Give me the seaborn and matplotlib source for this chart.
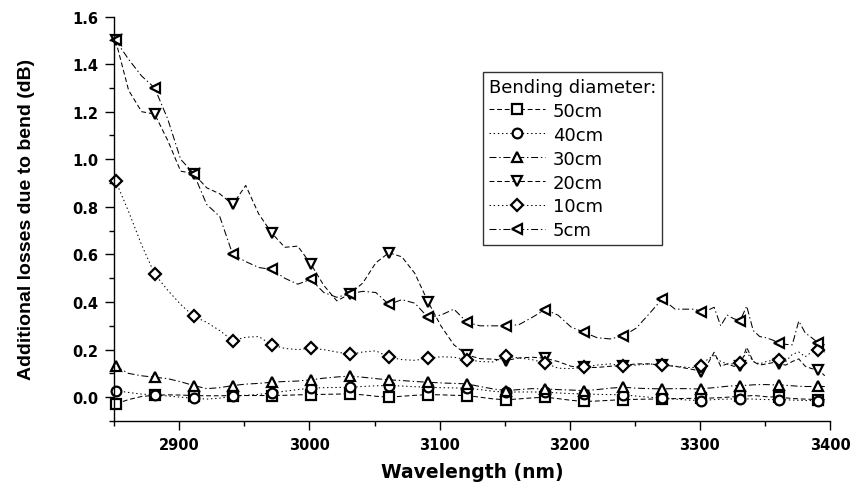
import matplotlib
matplotlib.use("Agg")
import matplotlib.pyplot as plt
from matplotlib.ticker import MultipleLocator
import seaborn as sns
import pandas as pd

wavelength = [2851, 2861, 2871, 2881, 2891, 2901, 2911, 2921, 2931, 2941,
              2951, 2961, 2971, 2981, 2991, 3001, 3011, 3021, 3031, 3041,
              3051, 3061, 3071, 3081, 3091, 3101, 3111, 3121, 3131, 3141,
              3151, 3161, 3171, 3181, 3191, 3201, 3211, 3221, 3231, 3241,
              3251, 3261, 3271, 3281, 3291, 3296, 3301, 3306, 3311, 3316,
              3321, 3326, 3331, 3336, 3341, 3346, 3351, 3356, 3361, 3366,
              3371, 3376, 3381, 3386, 3391, 3396]

loss_50cm = [-0.028, -0.010, 0.003, 0.008, 0.010, 0.009, 0.007, 0.006, 0.006, 0.007,
             0.007, 0.007, 0.007, 0.008, 0.010, 0.011, 0.012, 0.013, 0.014, 0.010,
             0.004, 0.000, 0.004, 0.008, 0.011, 0.010, 0.008, 0.007, 0.000, -0.007,
             -0.011, -0.007, -0.003, 0.000, -0.006, -0.013, -0.018, -0.016, -0.013, -0.010,
             -0.009, -0.008, -0.007, -0.006, -0.005, -0.005, -0.005, -0.004, -0.003, -0.002,
             0.000, 0.002, 0.003, 0.005, 0.007, 0.005, 0.002, 0.001, 0.000, -0.003,
             -0.005, -0.007, -0.008, -0.009, -0.010, -0.010]

loss_40cm = [0.028, 0.020, 0.013, 0.010, 0.005, 0.000, -0.004, -0.008, -0.004, 0.004,
             0.008, 0.012, 0.018, 0.025, 0.032, 0.038, 0.040, 0.041, 0.042, 0.045,
             0.048, 0.049, 0.047, 0.044, 0.042, 0.040, 0.039, 0.038, 0.032, 0.025,
             0.021, 0.022, 0.022, 0.021, 0.018, 0.015, 0.014, 0.012, 0.011, 0.010,
             0.005, 0.000, -0.004, -0.008, -0.012, -0.013, -0.014, -0.012, -0.010, -0.009,
             -0.008, -0.007, -0.007, -0.007, -0.008, -0.009, -0.010, -0.010, -0.010, -0.011,
             -0.012, -0.013, -0.014, -0.014, -0.014, -0.014]

loss_30cm = [0.130, 0.100, 0.090, 0.084, 0.078, 0.065, 0.049, 0.036, 0.040, 0.049,
             0.055, 0.058, 0.063, 0.066, 0.068, 0.073, 0.080, 0.085, 0.089, 0.084,
             0.078, 0.073, 0.070, 0.066, 0.063, 0.060, 0.058, 0.056, 0.045, 0.035,
             0.028, 0.032, 0.036, 0.035, 0.032, 0.030, 0.028, 0.032, 0.038, 0.042,
             0.038, 0.036, 0.035, 0.036, 0.036, 0.035, 0.035, 0.038, 0.040, 0.043,
             0.046, 0.048, 0.049, 0.050, 0.052, 0.053, 0.053, 0.052, 0.052, 0.050,
             0.048, 0.046, 0.045, 0.045, 0.045, 0.045]

loss_20cm = [1.500, 1.290, 1.200, 1.190, 1.080, 0.950, 0.940, 0.880, 0.855, 0.810,
             0.890, 0.770, 0.690, 0.630, 0.635, 0.560, 0.470, 0.405, 0.434, 0.480,
             0.565, 0.607, 0.590, 0.520, 0.402, 0.300, 0.220, 0.178, 0.162, 0.160,
             0.154, 0.165, 0.168, 0.164, 0.150, 0.130, 0.125, 0.125, 0.130, 0.133,
             0.140, 0.140, 0.135, 0.130, 0.120, 0.115, 0.105, 0.140, 0.189, 0.130,
             0.140, 0.130, 0.133, 0.210, 0.150, 0.135, 0.140, 0.145, 0.140, 0.135,
             0.150, 0.161, 0.130, 0.120, 0.116, 0.090]

loss_10cm = [0.910, 0.780, 0.640, 0.518, 0.450, 0.390, 0.340, 0.315, 0.280, 0.238,
             0.252, 0.255, 0.220, 0.205, 0.200, 0.206, 0.200, 0.190, 0.180, 0.190,
             0.195, 0.168, 0.158, 0.155, 0.164, 0.170, 0.168, 0.158, 0.150, 0.148,
             0.172, 0.165, 0.158, 0.144, 0.122, 0.120, 0.126, 0.135, 0.140, 0.130,
             0.135, 0.140, 0.136, 0.130, 0.125, 0.125, 0.130, 0.160, 0.175, 0.150,
             0.140, 0.140, 0.144, 0.190, 0.150, 0.140, 0.150, 0.155, 0.158, 0.150,
             0.180, 0.190, 0.170, 0.190, 0.200, 0.190]

loss_5cm = [1.500, 1.420, 1.350, 1.300, 1.170, 1.000, 0.940, 0.810, 0.760, 0.600,
            0.570, 0.545, 0.537, 0.500, 0.475, 0.495, 0.440, 0.420, 0.435, 0.445,
            0.440, 0.390, 0.410, 0.395, 0.336, 0.345, 0.370, 0.315, 0.300, 0.300,
            0.300, 0.305, 0.335, 0.368, 0.345, 0.295, 0.273, 0.250, 0.245, 0.257,
            0.290, 0.350, 0.413, 0.370, 0.370, 0.370, 0.360, 0.365, 0.378, 0.300,
            0.345, 0.330, 0.322, 0.383, 0.280, 0.255, 0.250, 0.240, 0.228, 0.222,
            0.220, 0.320, 0.270, 0.250, 0.228, 0.220]

series_labels = ["50cm", "40cm", "30cm", "20cm", "10cm", "5cm"]
series_values = [loss_50cm, loss_40cm, loss_30cm, loss_20cm, loss_10cm, loss_5cm]
markers = ["s", "o", "^", "v", "D", "<"]
marker_sizes = [6.5, 7, 7.5, 7.5, 6, 7.5]
dash_styles = [(0, (3.5, 2)), (0, (1, 2)), (0, (5, 2, 1, 2)),
               (0, (3.5, 2)), (0, (1, 2)), (0, (5, 2, 1, 2))]

x_ticks = [2900, 3000, 3100, 3200, 3300, 3400]
y_ticks = [0.0, 0.2, 0.4, 0.6, 0.8, 1.0, 1.2, 1.4, 1.6]

sns.set_style("ticks")
plt.rcParams["font.family"] = ["DejaVu Sans"]
plt.rcParams["lines.scale_dashes"] = False
plt.rcParams["text.color"] = "black"
plt.rcParams["axes.labelcolor"] = "black"
plt.rcParams["xtick.color"] = "black"
plt.rcParams["ytick.color"] = "black"

fig = plt.figure(figsize=(8.51, 4.85), dpi=100)
ax = fig.add_axes([0.1343, 0.1299, 0.8410, 0.8340])

mark_idx = [i for i, w in enumerate(wavelength) if (w - wavelength[0]) % 30 == 0]

for lab, vals, mk, ms, ls in zip(series_labels, series_values, markers,
                                 marker_sizes, dash_styles):
    df = pd.DataFrame({"Wavelength": wavelength, "Loss": vals})
    sns.lineplot(data=df, x="Wavelength", y="Loss", ax=ax, color="black",
                 linewidth=0.75, linestyle=ls, marker=mk, markersize=ms,
                 markerfacecolor="white", markeredgecolor="black",
                 markeredgewidth=1.6, markevery=mark_idx, label=lab,
                 clip_on=False, errorbar=None)

ax.set_xlim(2850, 3400)
ax.set_ylim(-0.1, 1.6)
ax.set_xticks(x_ticks)
ax.set_yticks(y_ticks)
ax.xaxis.set_minor_locator(MultipleLocator(50))
ax.yaxis.set_minor_locator(MultipleLocator(0.1))
ax.set_yticklabels([f"{v:.1f}" for v in y_ticks])
ax.tick_params(axis="both", which="major", direction="out", length=6.5,
               width=1, labelsize=10.5, pad=5, colors="black")
ax.tick_params(axis="both", which="minor", direction="out", length=3.5,
               width=1, colors="black")
for t in ax.get_xticklabels() + ax.get_yticklabels():
    t.set_fontweight("bold")

ax.set_xlabel("Wavelength (nm)", fontsize=13.5, fontweight="bold", labelpad=7,
              color="black")
ax.set_ylabel("Additional losses due to bend (dB)", fontsize=14,
              fontweight="bold", labelpad=27, color="black",
              family=["Liberation Sans", "DejaVu Sans"])

sns.despine(ax=ax)
for s in ["left", "bottom"]:
    ax.spines[s].set_linewidth(1.0)
    ax.spines[s].set_color("black")

leg = ax.legend(title="Bending diameter:", loc="upper left",
                bbox_to_anchor=(0.515, 0.863), borderaxespad=0,
                frameon=True, fancybox=False, edgecolor="black",
                fontsize=13, title_fontsize=13, handlelength=3.1,
                handletextpad=0.45, labelspacing=0.33, borderpad=0.32,
                alignment="left")
leg.get_frame().set_linewidth(1.0)

fig.savefig("out.png", dpi=100)
